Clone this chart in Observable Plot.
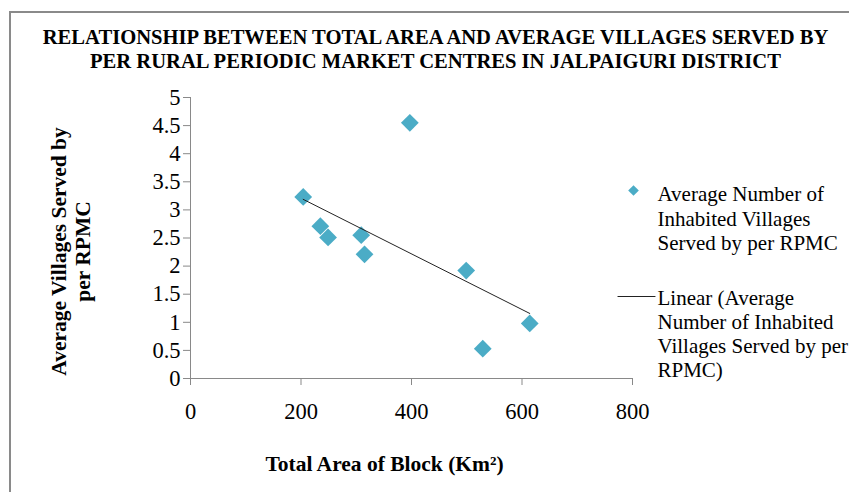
<!DOCTYPE html>
<html>
<head>
<meta charset="utf-8">
<script src="https://cdn.jsdelivr.net/npm/d3@7"></script>
<script src="https://cdn.jsdelivr.net/npm/@observablehq/plot@0.6"></script>
<style>
  html, body { margin: 0; padding: 0; background: #fff; }
  #chart { position: relative; width: 849px; height: 492px; overflow: hidden; }
</style>
</head>
<body>
<div id="chart"></div>
<script>
// Block-level data: total block area (km²) and average inhabited villages per RPMC
const area = [204, 235, 249, 309, 315, 397, 499, 529, 614];
const villages = [3.23, 2.71, 2.51, 2.55, 2.21, 4.55, 1.92, 0.53, 0.98];

const xTicks = [0, 200, 400, 600, 800];
const yTicks = [0, 0.5, 1, 1.5, 2, 2.5, 3, 3.5, 4, 4.5, 5];

const titleLines = [
  "RELATIONSHIP BETWEEN TOTAL AREA AND AVERAGE VILLAGES SERVED BY",
  "PER RURAL PERIODIC MARKET CENTRES IN JALPAIGURI DISTRICT"
];
const yTitleLines = ["Average Villages Served by", "per RPMC"];
const xTitle = "Total Area of Block (Km\u00B2)";
const legendSeries = ["Average Number of", "Inhabited Villages", "Served by per RPMC"];
const legendTrend = ["Linear (Average", "Number of Inhabited", "Villages Served by per", "RPMC)"];

const data = area.map((a, i) => ({area: a, villages: villages[i]}));

const serif = "'Liberation Serif', 'Times New Roman', Times, serif";
const axisGray = "#898989";
const teal = "#4bacc6";

// short horizontal stroke used as the trendline key
const dashSymbol = {
  draw(ctx, size) {
    const w = Math.sqrt(size);
    ctx.moveTo(-w / 2, 0);
    ctx.lineTo(w / 2, 0);
  }
};

const chart = Plot.plot({
  width: 849,
  height: 492,
  marginLeft: 190,
  marginRight: 217,
  marginTop: 97,
  marginBottom: 114,
  style: {fontFamily: serif, fontSize: "21px", color: "#000", background: "#fff", overflow: "hidden"},
  x: {domain: [0, 800], label: null},
  y: {domain: [0, 5], label: null},
  marks: [
    Plot.ruleY([0], {stroke: axisGray}),
    Plot.ruleX([0], {stroke: axisGray}),
    Plot.axisX({ticks: xTicks, tickSize: 7, tickPadding: 18, stroke: axisGray, fill: "#000",
      tickFormat: d => String(d), label: null, fontSize: 22.5}),
    Plot.axisY({ticks: yTicks, tickSize: 7, tickPadding: 3, stroke: axisGray, fill: "#000",
      tickFormat: d => String(d), label: null, fontSize: 22.5}),
    Plot.dot(data, {x: "area", y: "villages", symbol: "diamond2", r: 8, fill: teal, ariaLabel: "series"}),
    Plot.linearRegressionY(data, {x: "area", y: "villages", stroke: "#222", strokeWidth: 1, ci: 0}),

    // title
    Plot.text([titleLines.join("\n")], {frameAnchor: "top", dx: 24, dy: -71, lineAnchor: "top",
      lineHeight: 1.165, fontWeight: "bold", fontSize: 20.6, fill: "#000"}),

    // axis titles
    Plot.text([yTitleLines.join("\n")], {frameAnchor: "left", dx: -120, dy: 13.5, rotate: -90,
      textAnchor: "middle", lineAnchor: "middle", lineHeight: 1.12, fontWeight: "bold", fontSize: 21.5, fill: "#000"}),
    Plot.text([xTitle], {frameAnchor: "bottom", dx: -27, dy: 86, lineAnchor: "middle",
      fontWeight: "bold", fontSize: 21.5, fill: "#000"}),

    // legend
    Plot.dot([0], {frameAnchor: "top-right", dx: 1, dy: 93, symbol: "diamond2", r: 4.8, fill: teal}),
    Plot.text([legendSeries.join("\n")], {frameAnchor: "top-right", dx: 25, dy: 86, textAnchor: "start",
      lineAnchor: "top", lineHeight: 1.17, fontSize: 21, fill: "#000"}),
    Plot.dot([0], {frameAnchor: "top-right", dx: 4, dy: 199, symbol: dashSymbol, r: 21.4, stroke: "#222", strokeWidth: 1}),
    Plot.text([legendTrend.join("\n")], {frameAnchor: "top-right", dx: 25, dy: 190, textAnchor: "start",
      lineAnchor: "top", lineHeight: 1.145, fontSize: 21, fill: "#000"})
  ]
});

// soft shadow under the series markers
d3.select(chart).selectAll('g[aria-label="series"]')
  .style("filter", "drop-shadow(1.5px 1.5px 1px rgba(0,0,0,0.3))");

// chart-area border (left and top edges visible)
d3.select(chart).insert("rect", ":first-child")
  .attr("x", 10).attr("y", 12).attr("width", 1000).attr("height", 1000)
  .attr("fill", "none").attr("stroke", "#8a8a8a").attr("stroke-width", 2);

document.getElementById("chart").appendChild(chart);
</script>
</body>
</html>
